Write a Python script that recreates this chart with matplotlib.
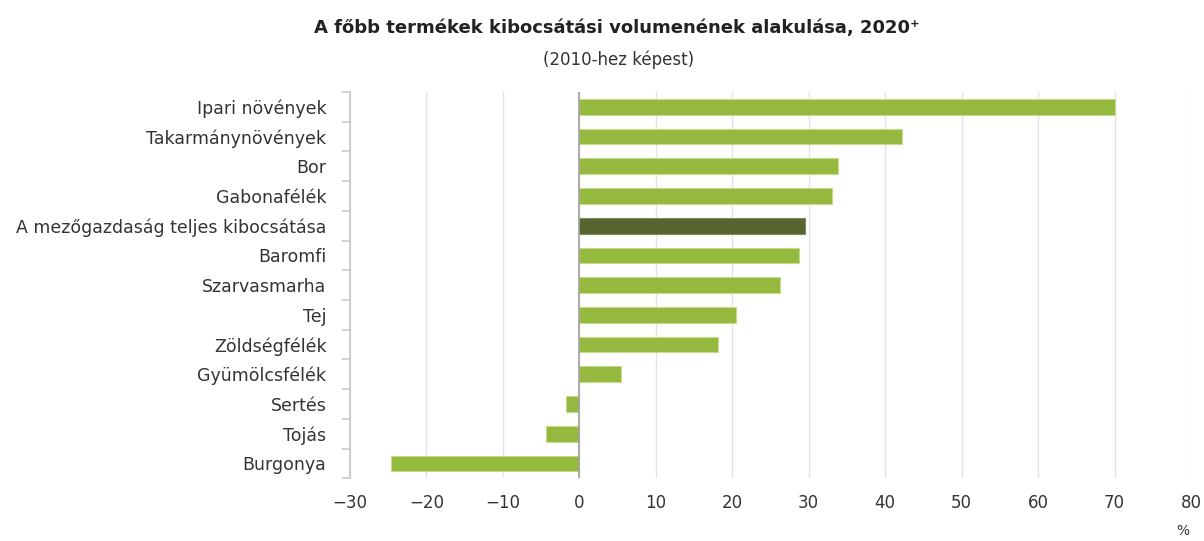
import matplotlib
matplotlib.use("Agg")
import matplotlib.pyplot as plt
import numpy as np

categories = ["Ipari növények", "Takarmánynövények", "Bor", "Gabonafélék",
              "A mezőgazdaság teljes kibocsátása", "Baromfi", "Szarvasmarha", "Tej",
              "Zöldségfélék", "Gyümölcsfélék", "Sertés", "Tojás", "Burgonya"]
values = [70.0, 42.2, 33.8, 33.0, 29.5, 28.7, 26.2, 20.5, 18.1, 5.4, -1.8, -4.4, -24.7]
highlight = "A mezőgazdaság teljes kibocsátása"
xticks = [-30, -20, -10, 0, 10, 20, 30, 40, 50, 60, 70, 80]

plt.rcParams["font.family"] = ["DejaVu Sans"]

fig = plt.figure(figsize=(12.04, 5.41), dpi=100)
ax = fig.add_axes([350 / 1204, 0.116, 841 / 1204, 0.714])

y = np.arange(len(categories))
colors = ["#566430" if c == highlight else "#95b83e" for c in categories]
edges = ["#7f8c5a" if c == highlight else "#c5dc8a" for c in categories]
ax.barh(y, values, height=0.53, color=colors, edgecolor=edges, linewidth=0.8, zorder=3)

ax.set_ylim(len(categories) - 0.5, -0.5)
ax.set_xlim(-30, 80)
ax.set_xticks(xticks)
ax.set_xticklabels([("−" + str(abs(t))) if t < 0 else str(t) for t in xticks])
ax.set_yticks(y)
ax.set_yticklabels(categories)
ax.set_yticks(np.arange(-0.5, len(categories), 1), minor=True)

ax.tick_params(axis="y", which="major", length=0, pad=17, labelsize=12.5, labelcolor="#333333")
ax.tick_params(axis="y", which="minor", length=6, width=1.2, color="#c8c8c8")
ax.tick_params(axis="x", length=0, pad=11, labelsize=12, labelcolor="#333333")

ax.grid(axis="x", color="#e3e3e3", linewidth=1, zorder=0)
ax.axvline(0, color="#a0a0a0", linewidth=1.2, zorder=4)
for s in ["top", "right", "bottom"]:
    ax.spines[s].set_visible(False)
ax.spines["left"].set_color("#c8c8c8")
ax.spines["left"].set_linewidth(1.2)

fig.text(0.5125, 0.948, "A főbb termékek kibocsátási volumenének alakulása, 2020⁺",
         ha="center", va="center", fontsize=13, fontweight="bold", color="#222222")
fig.text(0.5135, 0.889, "(2010-hez képest)", ha="center", va="center", fontsize=12, color="#333333")
fig.text(0.982, 0.018, "%", ha="center", va="center", fontsize=10, color="#333333")

fig.savefig("out.png", dpi=100)
